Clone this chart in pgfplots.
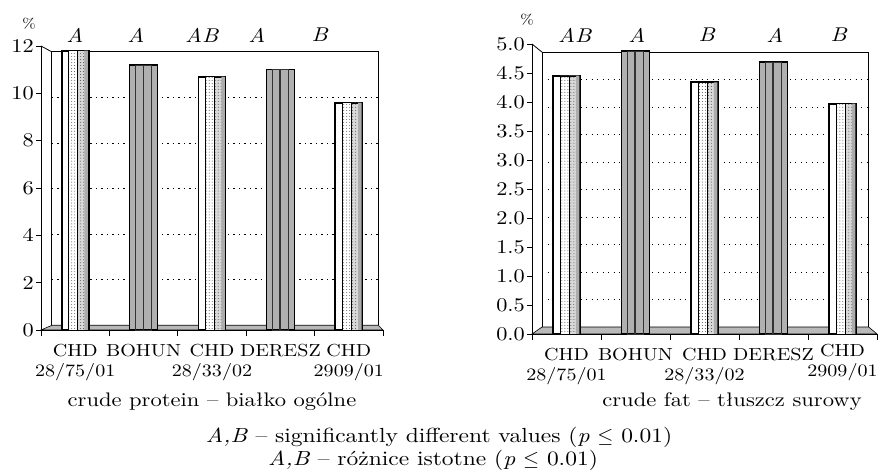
\documentclass[border=0pt]{standalone}
\usepackage{fontspec}
\setmainfont{lmroman10-regular.otf}[FakeStretch=1.15,ItalicFont=lmroman10-italic.otf]
\usepackage{pgfplots}
\usepackage{pgfplotstable}
\pgfplotsset{compat=1.18}
\usetikzlibrary{patterns}

\pgfplotstableread{
x y
0 11.8
2 10.7
4 9.6
}\protchd
\pgfplotstableread{
x y
1 11.2
3 11.0
}\protcv
\pgfplotstableread{
x y
0 4.45
2 4.34
4 3.97
}\fatchd
\pgfplotstableread{
x y
1 4.88
3 4.69
}\fatcv

\pgfplotsset{
 chdA/.style={ybar, bar width=27bp, bar shift=0pt, fill=white, draw=black, line width=1.6bp},
 chdB/.style={ybar, bar width=19bp, bar shift=3bp, fill=white, postaction={pattern=dots, pattern color=black!70}, draw=black, line width=0.7bp},
 chdC/.style={ybar, bar width=10bp, bar shift=7.5bp, fill=gray!30, postaction={pattern=dots, pattern color=black!70}, draw=black, line width=0.5bp},
 chdD/.style={ybar, bar width=3.5bp, bar shift=11bp, fill=gray!65, draw=none},
 cvA/.style={ybar, bar width=28bp, bar shift=0pt, fill=gray!62, draw=black, line width=1.4bp},
 cvB/.style={ybar, bar width=16bp, bar shift=0pt, fill=none, draw=black!80, line width=0.6bp},
 cvC/.style={ybar, bar width=0.6bp, bar shift=-0.5bp, fill=none, draw=black!80, line width=0.5bp},
 myaxis/.style={
  scale only axis, anchor=south west, clip=false,
  xmin=-0.5, xmax=4.5, ymin=0,
  axis x line*=bottom, axis y line*=left,
  axis line style={-, line width=0.8bp},
  tick align=outside, major tick length=5bp,
  tick style={black, line width=0.8bp},
  xtick={0,...,4},
  major x tick style={draw=none},
  extra x ticks={-0.5,0.5,1.5,2.5,3.5,4.5},
  extra x tick labels={},
  extra x tick style={major x tick style={draw=black, line width=0.8bp}, major tick length=6bp},
  yticklabel style={font=\fontsize{19.5}{21}\selectfont, inner sep=2bp},
  xticklabel style={font=\fontsize{17.5}{20.5}\selectfont, align=center, yshift=-8bp, inner sep=1bp},
  /pgf/number format/assume math mode=true,
 },
}

\begin{document}
\begin{tikzpicture}[font=\fontsize{20}{22}\selectfont]
\useasboundingbox (0,0) rectangle (880bp,472bp);

% ---------- left: crude protein ----------
\begin{axis}[myaxis,
  at={(41bp,142bp)}, width=342bp, height=284bp,
  ymax=12, ytick={0,2,...,12},
  xticklabels={{CHD\\28/75/01},BOHUN,{CHD\\28/33/02},DERESZ,{CHD\\2909/01}},
]
\filldraw[fill=gray!55, draw=black, line width=0.6bp] (axis cs:-0.5,0) -- (axis cs:-0.34,0.2) -- (axis cs:4.43,0.2) -- (axis cs:4.5,0) -- cycle;
\draw[line width=0.9bp] (axis cs:-0.34,0.2) -- (axis cs:-0.34,11.75) -- (axis cs:4.43,11.75) -- (axis cs:4.43,0.2);
\draw[line width=0.8bp] (axis cs:-0.5,12) -- (axis cs:-0.34,11.75);
\pgfplotsinvokeforeach{2,4,6,8,10}{
 \draw[line width=1bp, dash pattern=on 1.2bp off 4.3bp] (axis cs:-0.34,{0.2+#1*0.9625}) -- (axis cs:4.43,{0.2+#1*0.9625});
}
\addplot[chdA] table[x=x,y=y] {\protchd};
\addplot[chdB] table[x=x,y=y] {\protchd};
\addplot[chdC] table[x=x,y=y] {\protchd};
\addplot[chdD] table[x=x,y=y] {\protchd};
\addplot[cvA] table[x=x,y=y] {\protcv};
\addplot[cvB] table[x=x,y=y] {\protcv};
\addplot[cvC] table[x=x,y=y] {\protcv};
\end{axis}

% ---------- right: crude fat ----------
\begin{axis}[myaxis,
  at={(532bp,138bp)}, width=345bp, height=290bp,
  ymax=5, ytick={0,0.5,...,5},
  yticklabel style={/pgf/number format/.cd, fixed, fixed zerofill, precision=1},
  xticklabels={{CHD\\28/75/01},BOHUN,{CHD\\28/33/02},DERESZ,{\raisebox{0pt}[8bp][0pt]{CHD}\\2909/01}},
]
\filldraw[fill=gray!55, draw=black, line width=0.6bp] (axis cs:-0.5,0) -- (axis cs:-0.355,0.12) -- (axis cs:4.38,0.12) -- (axis cs:4.5,0) -- cycle;
\draw[line width=0.9bp] (axis cs:-0.355,0.12) -- (axis cs:-0.355,4.86) -- (axis cs:4.38,4.86) -- (axis cs:4.38,0.12);
\draw[line width=0.8bp] (axis cs:-0.5,5) -- (axis cs:-0.355,4.86);
\pgfplotsinvokeforeach{0.5,1,1.5,2,2.5,3,3.5,4,4.5}{
 \draw[line width=1bp, dash pattern=on 1.2bp off 4.3bp] (axis cs:-0.355,{0.12+#1*0.948}) -- (axis cs:4.38,{0.12+#1*0.948});
}
\addplot[chdA] table[x=x,y=y] {\fatchd};
\addplot[chdB] table[x=x,y=y] {\fatchd};
\addplot[chdC] table[x=x,y=y] {\fatchd};
\addplot[chdD] table[x=x,y=y] {\fatchd};
\addplot[cvA] table[x=x,y=y] {\fatcv};
\addplot[cvB] table[x=x,y=y] {\fatcv};
\addplot[cvC] table[x=x,y=y] {\fatcv};
\end{axis}

% ---------- letters and texts ----------
\node[font=\fontsize{14}{15}\selectfont, inner sep=0pt] at (29bp,448bp) {\%};
\node[font=\fontsize{14}{15}\selectfont, inner sep=0pt] at (527bp,452bp) {\%};
\foreach \x/\t in {75/A,136/A,202/AB,257/A,320/B,575/AB,637/A,707/B,775/A,839/B}
  \node[inner sep=1bp] at (\x bp,437bp) {\textit{\t}};
\node[font=\fontsize{19.7}{22}\selectfont, inner sep=0pt] at (212bp,70bp) {crude protein -- białko ogólne};
\node[font=\fontsize{19.7}{22}\selectfont, inner sep=0pt] at (732bp,70bp) {crude fat -- tłuszcz surowy};
\node[font=\fontsize{20.5}{22}\selectfont, inner sep=0pt] at (439bp,35bp) {\textit{A,B} -- significantly different values (\textit{p} $\leq$ 0.01)};
\node[font=\fontsize{20.5}{22}\selectfont, inner sep=0pt] at (433bp,12bp) {\textit{A,B} -- różnice istotne (\textit{p} $\leq$ 0.01)};
\end{tikzpicture}
\end{document}
